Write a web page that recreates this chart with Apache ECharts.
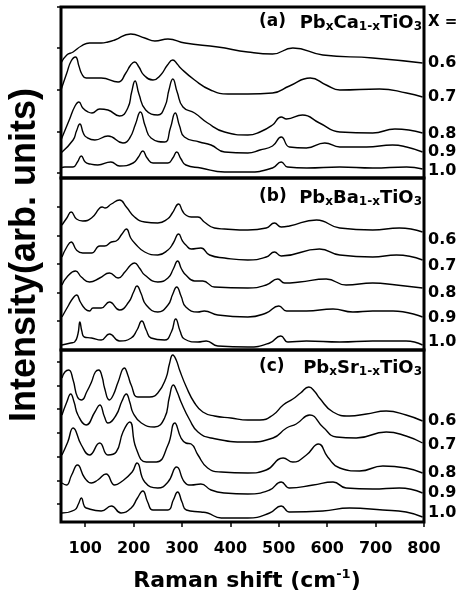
<!DOCTYPE html>
<html>
<head>
<meta charset="utf-8">
<script src="https://cdn.jsdelivr.net/npm/echarts@6/dist/echarts.min.js"></script>
<style>
html,body{margin:0;padding:0;background:#fff;}
#chart{width:461px;height:605px;}
</style>
</head>
<body>
<div id="chart"></div>
<script>
// ---------- DATA (Raman shift cm^-1, intensity arb. units) ----------
const xTicks = [100, 200, 300, 400, 500, 600, 700, 800];
const compositions = ['0.6', '0.7', '0.8', '0.9', '1.0'];

// (a) PbxCa1-xTiO3
const caX06 = [[50,115],[62,123],[75,126],[92,132],[109,135],[133,135],[147,136],[161,138],[194,144],[223,140],[244,137],[271,139],[306,135],[374,131],[436,126],[487,124],[529,130],[591,123],[694,120],[797,115]];
const caX07 = [[50,88],[62,105],[71,117],[80,121],[87,112],[93,104],[102,100],[133,100],[168,96],[184,105],[194,113],[202,116],[211,111],[221,103],[240,98],[256,103],[270,113],[281,118],[290,114],[297,110],[326,98],[359,88],[395,84],[436,84],[487,85],[522,92],[565,100],[598,93],[626,88],[708,89],[764,85],[797,81]];
const caX08 = [[50,38],[67,58],[79,72],[87,76],[95,70],[106,66],[114,65],[130,69],[147,68],[171,62],[188,70],[196,86],[203,97],[211,84],[225,68],[250,63],[265,72],[273,88],[281,99],[290,86],[302,71],[326,65],[353,55],[388,46],[436,43],[461,46],[487,53],[505,61],[516,59],[549,63],[584,55],[626,46],[694,45],[740,49],[797,45]];
const caX09 = [[50,25],[75,38],[82,47],[89,54],[96,45],[102,41],[120,38],[147,42],[178,35],[192,40],[204,54],[214,66],[224,52],[236,40],[264,36],[276,50],[286,65],[295,52],[305,41],[336,36],[360,33],[388,26],[436,25],[461,28],[487,32],[505,41],[522,31],[557,30],[595,35],[626,31],[681,31],[735,33],[764,31],[797,26]];
const caX10 = [[50,10],[58,11],[75,11],[84,16],[92,22],[100,16],[110,14],[126,13],[153,16],[171,12],[199,15],[210,21],[219,27],[228,20],[240,15],[271,15],[281,20],[289,26],[298,19],[308,13],[339,10],[388,6],[436,6],[487,10],[505,16],[518,11],[558,10],[626,11],[694,10],[764,11],[797,9]];

// (b) PbxBa1-xTiO3
const baX06 = [[52,125],[62,132],[71,138],[82,131],[95,129],[113,132],[130,142],[135,143],[141,142],[154,146],[171,150],[185,143],[202,133],[223,128],[250,127],[270,131],[280,137],[293,146],[301,139],[308,135],[319,133],[333,133],[346,128],[367,122],[388,121],[436,120],[474,122],[491,127],[505,123],[522,124],[578,130],[626,122],[694,120],[749,122],[797,118]];
const baX07 = [[52,93],[62,103],[71,108],[82,100],[95,97],[113,97],[130,104],[140,104],[154,108],[164,109],[176,116],[185,121],[194,112],[202,107],[223,98],[250,95],[271,100],[282,107],[293,116],[301,109],[308,105],[319,101],[339,102],[357,95],[388,92],[436,90],[474,93],[491,98],[505,94],[584,101],[626,95],[694,93],[743,95],[797,90]];
const baX08 = [[52,65],[64,74],[80,79],[92,73],[109,68],[130,72],[150,77],[168,72],[182,78],[194,85],[202,87],[212,82],[223,75],[250,68],[271,72],[282,81],[291,89],[299,81],[308,75],[326,69],[343,69],[367,63],[436,62],[474,65],[498,71],[512,67],[543,68],[598,71],[639,65],[694,67],[743,65],[797,62]];
const baX09 = [[52,33],[66,45],[75,52],[82,55],[90,48],[100,41],[109,39],[116,42],[133,42],[150,48],[171,40],[190,48],[200,58],[207,64],[215,57],[226,45],[250,38],[271,45],[281,56],[289,63],[298,54],[308,43],[333,38],[346,39],[374,35],[436,33],[474,37],[500,44],[516,39],[557,39],[612,41],[653,38],[694,39],[736,39],[797,33]];
const baX10 = [[52,5],[70,7],[78,8],[85,16],[89,28],[93,19],[98,13],[113,12],[133,10],[150,16],[171,9],[195,12],[207,20],[217,29],[226,20],[236,12],[264,10],[278,18],[287,31],[296,19],[305,11],[333,8],[350,9],[374,4],[436,3],[481,7],[504,14],[519,8],[557,9],[626,8],[694,9],[763,9],[797,5]];

// (c) PbxSr1-xTiO3
const srX06 = [[52,144],[58,150],[66,152],[75,142],[84,125],[93,122],[103,130],[113,140],[121,150],[128,152],[135,145],[140,134],[150,122],[158,127],[168,140],[181,154],[188,147],[195,137],[209,125],[233,125],[250,129],[267,144],[274,158],[281,167],[288,162],[295,152],[309,135],[326,119],[343,110],[367,106],[401,104],[436,102],[461,102],[488,107],[509,117],[529,123],[545,129],[562,135],[575,130],[584,124],[612,110],[646,106],[681,108],[722,111],[763,107],[797,101]];
const srX07 = [[52,107],[62,120],[70,128],[77,120],[85,107],[102,97],[120,110],[130,117],[140,105],[147,99],[164,107],[176,121],[185,128],[192,120],[199,109],[216,99],[243,95],[264,104],[274,125],[282,137],[290,130],[298,120],[316,102],[333,90],[360,84],[436,80],[488,84],[516,94],[536,98],[564,107],[591,95],[619,85],[660,84],[722,90],[763,86],[797,79]];
const srX08 = [[52,67],[64,80],[75,94],[92,77],[109,67],[130,79],[147,67],[164,70],[178,90],[192,100],[205,74],[226,60],[247,60],[271,77],[285,99],[298,84],[308,79],[319,78],[333,67],[353,54],[381,50],[436,49],[474,52],[509,64],[529,60],[557,67],[582,78],[601,65],[626,54],[667,51],[715,56],[763,54],[797,49]];
const srX09 = [[52,39],[61,37],[72,47],[84,57],[99,44],[113,39],[126,42],[143,48],[161,37],[174,40],[197,50],[207,59],[223,40],[250,34],[271,40],[289,55],[305,40],[319,37],[339,38],[360,32],[388,29],[436,28],[481,32],[505,40],[522,34],[571,37],[612,40],[639,34],[694,33],[749,34],[797,29]];
const srX10 = [[52,9],[78,12],[86,18],[92,24],[98,16],[102,14],[133,11],[154,16],[174,9],[195,14],[208,24],[219,31],[229,20],[240,12],[271,12],[282,22],[291,30],[300,20],[309,12],[339,10],[353,9],[381,4],[436,4],[481,9],[505,16],[522,10],[591,11],[646,14],[715,12],[763,10],[797,5]];

// y tick positions per panel (arb. units)
const yTicksA = [5, 46, 88, 130, 171];
const yTicksB = [29, 57, 86, 114, 143];
const yTicksC = [18, 41, 65, 89, 113, 136, 160];

// ---------- LAYOUT ----------
const panels = [
  { curves: [caX06, caX07, caX08, caX09, caX10], ticks: yTicksA, top: 7, height: 171, yMax: 171,
    tag: '(a)', formula: ['Pb','x','Ca','1-x','TiO','3'], tagY: 22, labelY: [63, 97, 134, 152, 171] },
  { curves: [baX06, baX07, baX08, baX09, baX10], ticks: yTicksB, top: 178, height: 172, yMax: 172,
    tag: '(b)', formula: ['Pb','x','Ba','1-x','TiO','3'], tagY: 197, labelY: [240, 266, 293, 318, 342] },
  { curves: [srX06, srX07, srX08, srX09, srX10], ticks: yTicksC, top: 350, height: 172, yMax: 172,
    tag: '(c)', formula: ['Pb','x','Sr','1-x','TiO','3'], tagY: 367, labelY: [421, 445, 473, 493, 513] }
];

const FONT = '"DejaVu Sans", sans-serif';
const grids = [], xAxes = [], yAxes = [], series = [], graphics = [];

panels.forEach((p, i) => {
  grids.push({ left: 61, right: 37, top: p.top, height: p.height, show: true,
    borderColor: '#000', borderWidth: 3, backgroundColor: 'transparent' });
  const bottom = i === panels.length - 1;
  xAxes.push({
    type: 'value', gridIndex: i, min: 50, max: 800,
    axisLine: { show: false },
    splitLine: { show: false },
    axisTick: bottom ? { show: true, inside: false, length: 5, customValues: xTicks,
      lineStyle: { color: '#000', width: 1.5 } } : { show: false },
    axisLabel: bottom ? { show: true, customValues: xTicks, color: '#000', fontFamily: FONT,
      fontWeight: 'bold', fontSize: 16, margin: 19 } : { show: false }
  });
  yAxes.push({
    type: 'value', gridIndex: i, min: 0, max: p.yMax,
    axisLine: { show: false },
    splitLine: { show: false },
    axisTick: { show: true, inside: false, length: 4, customValues: p.ticks,
      lineStyle: { color: '#000', width: 1.5 } },
    axisLabel: { show: false, customValues: p.ticks }
  });
  p.curves.forEach((c, k) => {
    series.push({
      type: 'line', name: p.tag + ' x=' + compositions[k], xAxisIndex: i, yAxisIndex: i,
      data: c, smooth: 0.5, showSymbol: false, symbol: 'none',
      lineStyle: { color: '#000', width: 1.4 }, silent: true
    });
    graphics.push({ type: 'text', x: 428, y: p.labelY[k], silent: true,
      style: { text: compositions[k], fill: '#000', fontFamily: FONT, fontWeight: 'bold',
        fontSize: 16, align: 'left', verticalAlign: 'middle' } });
  });
  // panel tag
  graphics.push({ type: 'text', x: 259, y: p.tagY, silent: true,
    style: { text: p.tag, fill: '#000', fontFamily: FONT, fontWeight: 'bold', fontSize: 17,
      align: 'left', verticalAlign: 'middle' } });
  // formula with subscripts
  const f = p.formula;
  const rich = {
    m: { fontFamily: FONT, fontWeight: 'bold', fontSize: 18, lineHeight: 19, verticalAlign: 'top', fill: '#000' },
    s: { fontFamily: FONT, fontWeight: 'bold', fontSize: 12, lineHeight: 12, padding: [10, 0, 0, 0], verticalAlign: 'bottom', fill: '#000' }
  };
  graphics.push({ type: 'text', x: 422, y: p.tagY + 1.5, silent: true,
    style: { text: '{m|' + f[0] + '}{s|' + f[1] + '}{m|' + f[2] + '}{s|' + f[3] + '}{m|' + f[4] + '}{s|' + f[5] + '}',
      rich: rich, align: 'right', verticalAlign: 'middle', fill: '#000' } });
});

// "X =" header
graphics.push({ type: 'text', x: 428, y: 22, silent: true,
  style: { text: 'X =', fill: '#000', fontFamily: FONT, fontWeight: 'bold', fontSize: 15,
    align: 'left', verticalAlign: 'middle' } });

// x title
graphics.push({ type: 'text', x: 247, y: 580, silent: true,
  style: { text: '{m|Raman shift (cm}{p|-1}{m|)}',
    rich: {
      m: { fontFamily: FONT, fontWeight: 'bold', fontSize: 22, lineHeight: 24, verticalAlign: 'bottom', fill: '#000' },
      p: { fontFamily: FONT, fontWeight: 'bold', fontSize: 13, lineHeight: 13, verticalAlign: 'top', fill: '#000' }
    },
    align: 'center', verticalAlign: 'middle', fill: '#000' } });

// y title
graphics.push({ type: 'text', x: 25, y: 255, rotation: Math.PI / 2, silent: true,
  style: { text: 'Intensity(arb. units)', fill: '#000', fontFamily: '"Liberation Sans", Arial, sans-serif',
    fontWeight: 'bold', fontSize: 36, align: 'center', verticalAlign: 'middle' } });

const chart = echarts.init(document.getElementById('chart'), null, { renderer: 'canvas' });
chart.setOption({
  animation: false,
  backgroundColor: '#fff',
  grid: grids, xAxis: xAxes, yAxis: yAxes, series: series,
  graphic: graphics
});
</script>
</body>
</html>
